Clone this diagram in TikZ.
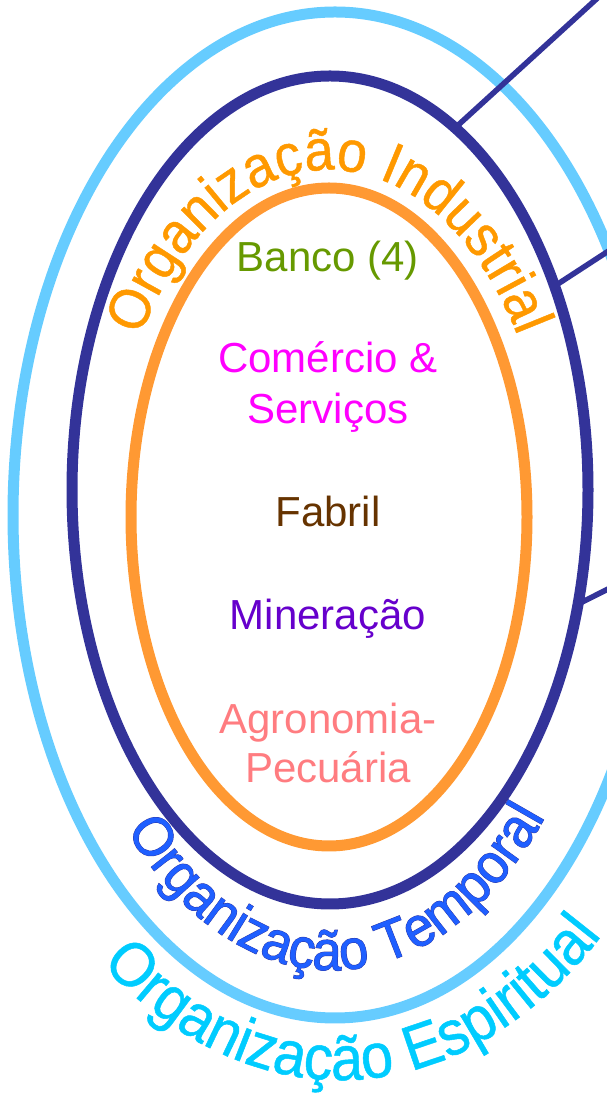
\documentclass[tikz,border=0pt]{standalone}
\usepackage{fontspec}
\setmainfont{Liberation Sans}
\newfontfamily\arcfont[FakeStretch=0.92,FakeBold=0.8]{Liberation Sans}
\newfontfamily\arcedge[FakeStretch=0.94,FakeBold=1.8]{Liberation Sans}
\newfontfamily\arcfill[FakeStretch=0.94,FakeBold=0.3]{Liberation Sans}
\usetikzlibrary{decorations.text,calc}
\definecolor{espline}{HTML}{66CCFF}
\definecolor{navy}{HTML}{333399}
\definecolor{ringorange}{HTML}{FF9933}
\definecolor{indorange}{HTML}{FF9900}
\definecolor{tempblue}{HTML}{1F5FFF}
\definecolor{espcyan}{HTML}{00CCFF}
\definecolor{bancogreen}{HTML}{669900}
\definecolor{comerciopink}{HTML}{FF00FF}
\definecolor{fabrilbrown}{HTML}{663300}
\definecolor{minerpurple}{HTML}{6600CC}
\definecolor{agrosalmon}{HTML}{FF7C80}
\begin{document}
\begin{tikzpicture}[x=1pt,y=1pt,
    ring/.style={line width=11pt},
    link/.style={navy,line width=5.5pt},
    label/.style={font=\fontsize{42}{50}\selectfont,anchor=base}]
    \useasboundingbox (0,0) rectangle (607,1095);
    % three rings
    \draw[ring,espline] (335,580) ellipse [x radius=322, y radius=503];
    \draw[ring,navy] (330,605) ellipse [x radius=258, y radius=414];
    \draw[ring,ringorange] (329,578) ellipse [x radius=198, y radius=329];
    % links going out on the right
    \foreach \i/\t/\ex/\ey in {1/61/625/1122, 2/29.5/630/858, 3/-16/630/517} {
      \coordinate (ring\i) at ($(330,605)+(\t:258 and 414)$);
      \coordinate (out\i) at (\ex,\ey);
      \draw[link] (ring\i) -- (out\i);
    }
    % ring names
    \path[decorate,decoration={text along path,text align=center,
      text={|\color{indorange}\arcfont\fontsize{58}{60}\selectfont|Organização Industrial}}]
      (329,578) ++(165:221 and 347) arc[start angle=165, end angle=15, x radius=221, y radius=347];
    \foreach \look in {{\color{navy}\arcedge}, {\color{tempblue}\arcfill}} {
      \path[decorate,decoration={text along path,text align=center,
        text/.expanded={|\unexpanded\expandafter{\look}\noexpand\fontsize{56}{60}\noexpand\selectfont|Organização Temporal}}]
        (332,580) ++(200:285 and 455) arc[start angle=200, end angle=342, x radius=285, y radius=455];
    }
    \path[decorate,decoration={text along path,text align=center,
      text={|\color{espcyan}\arcfont\fontsize{63}{66}\selectfont|Organização Espiritual}}]
      (340,580) ++(210:392 and 565) arc[start angle=210, end angle=334, x radius=392, y radius=565];
    % sectors inside
    \foreach \name/\y/\col/\txt in {banco/823/bancogreen/Banco (4),
      comercio/722/comerciopink/Comércio \&, servicos/671/comerciopink/Serviços,
      fabril/568/fabrilbrown/Fabril, mineracao/465/minerpurple/Mineração,
      agro/361/agrosalmon/Agronomia-, pecuaria/312/agrosalmon/Pecuária} {
      \node[label,text=\col] (\name) at (328,\y) {\txt};
    }
\end{tikzpicture}
\end{document}
